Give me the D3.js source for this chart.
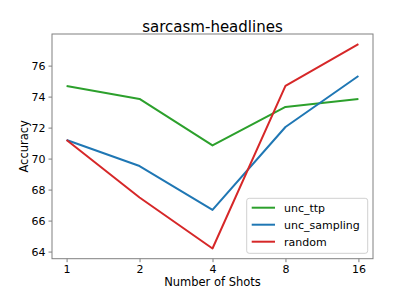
<!DOCTYPE html>
<html><head><meta charset="utf-8">
<script src="https://cdn.jsdelivr.net/npm/d3@7"></script>
<style>body{margin:0;background:#fff}svg{display:block}text{font-family:"DejaVu Sans",sans-serif;fill:#000}</style>
</head><body>
<script>
const shots = [1, 2, 4, 8, 16];
const seriesNames = ["unc_ttp", "unc_sampling", "random"];
const uncTtp = [74.69, 73.85, 70.85, 73.33, 73.85];
const uncSampling = [71.2, 69.52, 66.69, 72.04, 75.33];
const randomSel = [71.2, 67.49, 64.2, 74.69, 77.38];
const colors = ["#2ca02c", "#1f77b4", "#d62728"];
const yTicks = [64, 66, 68, 70, 72, 74, 76];

const W = 415, H = 291;
const L = 52, R = 373, T = 34, B = 258.7;
const svg = d3.select("body").append("svg").attr("width", W).attr("height", H);

const x = d3.scaleLog().base(2).domain([Math.pow(2, -0.2), Math.pow(2, 4.2)]).range([L, R]);
const yMin = 63.54, yMax = 78.04;
const y = d3.scaleLinear().domain([yMin, yMax]).range([B, T]);

const data = [uncTtp, uncSampling, randomSel];
const line = d3.line().x((d, i) => x(shots[i])).y(d => y(d));
data.forEach((s, k) => {
  svg.append("path").datum(s).attr("d", line).attr("fill", "none")
    .attr("stroke", colors[k]).attr("stroke-width", 2).attr("stroke-linejoin", "round");
});

// frame
svg.append("rect").attr("x", L).attr("y", T).attr("width", R - L).attr("height", B - T)
  .attr("fill", "none").attr("stroke", "#808080").attr("stroke-width", 1);

const xAxis = d3.axisBottom(x).tickValues(shots).tickFormat(d3.format("d")).tickSize(3.5).tickPadding(3);
const gx = svg.append("g").attr("transform", `translate(0,${B})`).call(xAxis);
gx.select(".domain").remove();
gx.selectAll("line").attr("stroke", "#808080");
gx.selectAll("text").style("font-size", "11px").style("font-family", "DejaVu Sans").attr("fill", "#000");

const yAxis = d3.axisLeft(y).tickValues(yTicks).tickSize(3.5).tickPadding(3);
const gy = svg.append("g").attr("transform", `translate(${L},0)`).call(yAxis);
gy.select(".domain").remove();
gy.selectAll("line").attr("stroke", "#808080");
gy.selectAll("text").style("font-size", "11px").style("font-family", "DejaVu Sans").attr("fill", "#000");

svg.append("text").attr("x", (L + R) / 2).attr("y", 31.5).attr("text-anchor", "middle")
  .style("font-size", "15px").text("sarcasm-headlines");
svg.append("text").attr("x", (L + R) / 2).attr("y", 286).attr("text-anchor", "middle")
  .style("font-size", "11.5px").text("Number of Shots");
svg.append("text").attr("transform", `translate(28,${(T + B) / 2}) rotate(-90)`).attr("text-anchor", "middle")
  .style("font-size", "11.5px").text("Accuracy");

// legend
const lg = svg.append("g");
lg.append("rect").attr("x", 246.7).attr("y", 198.3).attr("width", 121).attr("height", 55)
  .attr("rx", 2.5).attr("fill", "rgba(255,255,255,0.8)").attr("stroke", "#d0d0d0").attr("stroke-width", 1);
seriesNames.forEach((n, k) => {
  const yy = 207.7 + k * 17;
  lg.append("line").attr("x1", 251.7).attr("x2", 275).attr("y1", yy).attr("y2", yy)
    .attr("stroke", colors[k]).attr("stroke-width", 2);
  lg.append("text").attr("x", 284).attr("y", yy + 4).style("font-size", "11px").text(n);
});
</script>
</body></html>
